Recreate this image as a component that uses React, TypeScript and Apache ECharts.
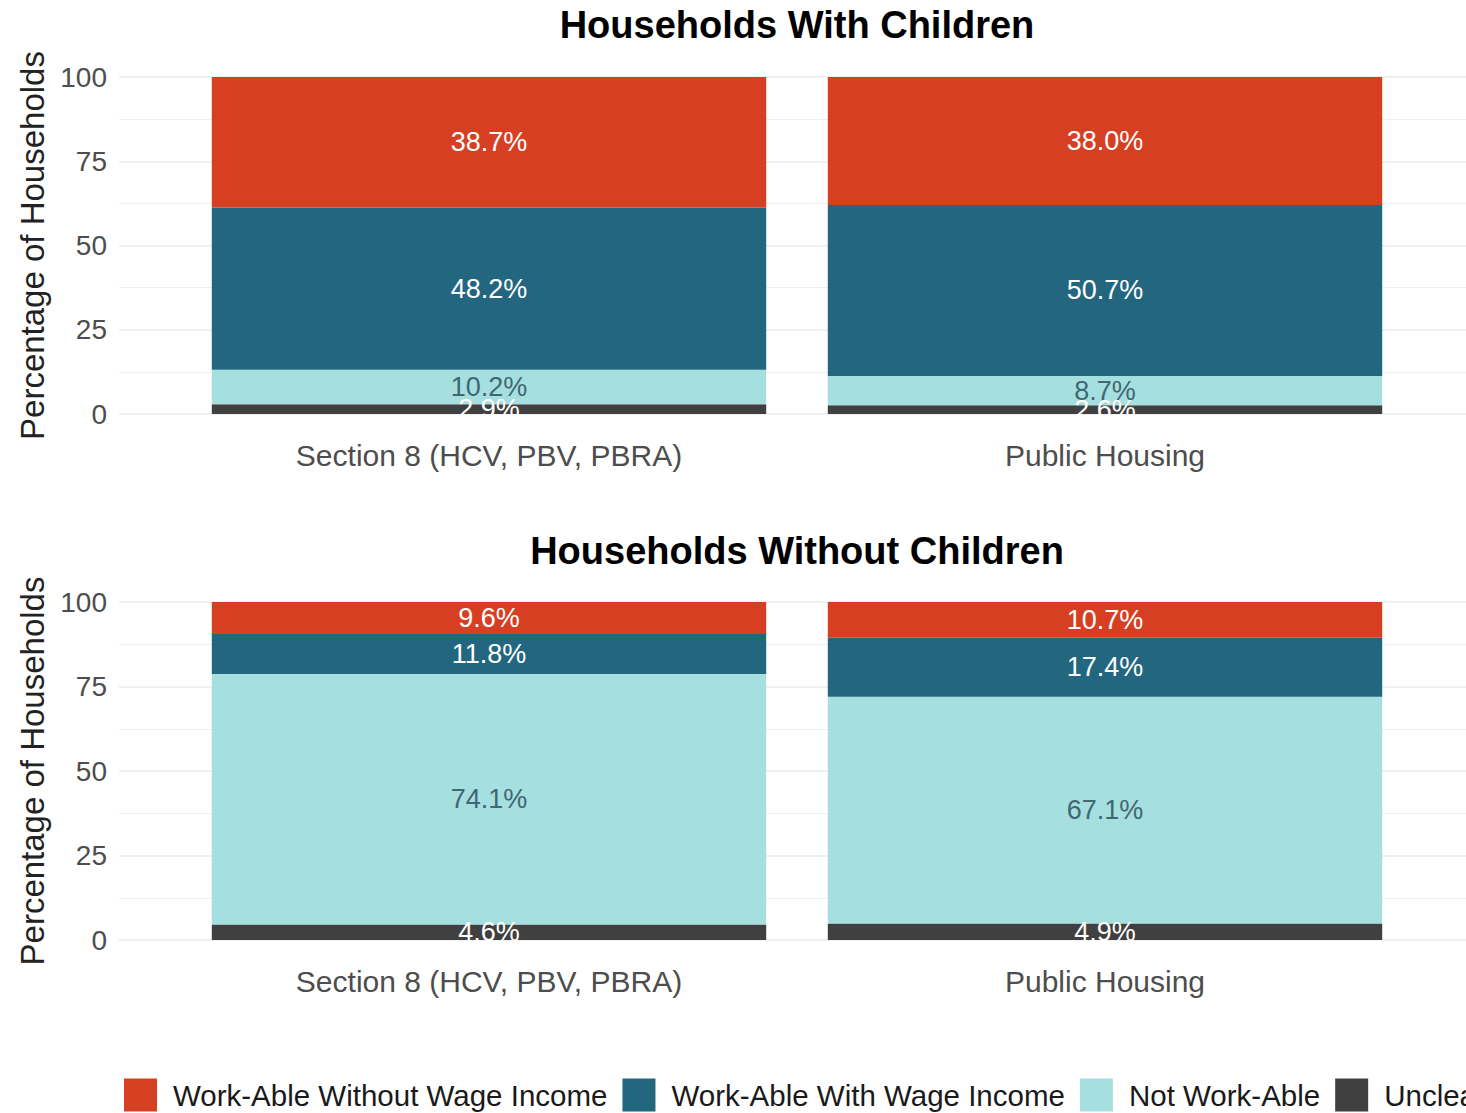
import React, { useEffect, useRef } from "react";
import * as echarts from "echarts";

const categories = ["Section 8 (HCV, PBV, PBRA)", "Public Housing"];
const seriesNames = ["Work-Able Without Wage Income", "Work-Able With Wage Income", "Not Work-Able", "Unclear"];
const seriesColors = ["#d63f21", "#22667f", "#a6dfe0", "#404040"];
const labelColors = ["#ffffff", "#ffffff", "#3f6873", "#ffffff"];
const panelTitles = ["Households With Children", "Households Without Children"];

// values per panel: [WithoutWage, WithWage, NotWorkAble, Unclear] for each category
const withChildrenWithoutWage = [38.7, 38.0];
const withChildrenWithWage = [48.2, 50.7];
const withChildrenNotWorkAble = [10.2, 8.7];
const withChildrenUnclear = [2.9, 2.6];

const withoutChildrenWithoutWage = [9.6, 10.7];
const withoutChildrenWithWage = [11.8, 17.4];
const withoutChildrenNotWorkAble = [74.1, 67.1];
const withoutChildrenUnclear = [4.6, 4.9];

const yTicks = [0, 25, 50, 75, 100];

const FONT = "Liberation Sans, Arial, sans-serif";

export default function App() {
  const ref = useRef<HTMLDivElement>(null);
  useEffect(() => {
    if (!ref.current) return;
    const chart = echarts.init(ref.current, null, { renderer: "svg" });
    const panels = [
      { top: 77, height: 337, titleTop: 1, data: [withChildrenWithoutWage, withChildrenWithWage, withChildrenNotWorkAble, withChildrenUnclear] },
      { top: 602, height: 338, titleTop: 527, data: [withoutChildrenWithoutWage, withoutChildrenWithWage, withoutChildrenNotWorkAble, withoutChildrenUnclear] },
    ];
    const grid: any[] = [];
    const xAxis: any[] = [];
    const yAxis: any[] = [];
    const series: any[] = [];
    const title: any[] = [];
    panels.forEach((p, pi) => {
      grid.push({ left: 119, right: 0, top: p.top, height: p.height });
      grid.push({ left: 181, width: 1232, top: p.top, height: p.height });
      const bg = pi * 2;
      const bar = pi * 2 + 1;
      xAxis.push({ type: "category", gridIndex: bg, data: ["x"], show: false });
      xAxis.push({
        type: "category",
        gridIndex: bar,
        data: categories,
        axisLine: { show: false },
        axisTick: { show: false },
        splitLine: { show: false },
        axisLabel: { fontSize: 30, color: "#4d4d4d", margin: 26, fontFamily: FONT },
      });
      yAxis.push({
        type: "value",
        gridIndex: bg,
        min: yTicks[0],
        max: yTicks[yTicks.length - 1],
        interval: 25,
        axisLine: { show: false },
        axisTick: { show: false },
        axisLabel: { fontSize: 28, color: "#4d4d4d", margin: 12, fontFamily: FONT },
        splitLine: { show: true, lineStyle: { color: "#ebebeb", width: 1.6 } },
        minorTick: { show: false, splitNumber: 2 },
        minorSplitLine: { show: true, lineStyle: { color: "#f0f0f0", width: 1 } },
        name: "Percentage of Households",
        nameLocation: "middle",
        nameGap: 69,
        nameTextStyle: { fontSize: 33, color: "#222222", fontFamily: FONT },
      });
      yAxis.push({ type: "value", gridIndex: bar, min: 0, max: 100, show: false, splitLine: { show: false } });
      seriesNames.forEach((n, si) => {
        series.push({
          type: "bar",
          name: n,
          xAxisIndex: bar,
          yAxisIndex: bar,
          stack: "panel" + pi,
          barWidth: "90%",
          data: p.data[si],
          itemStyle: { color: seriesColors[si] },
          label: {
            show: true,
            position: "inside",
            color: labelColors[si],
            fontSize: 27,
            fontFamily: FONT,
            formatter: (v: any) => Number(v.value).toFixed(1) + "%",
          },
          z: 3,
        });
      });
      title.push({
        text: panelTitles[pi],
        left: 792,
        textAlign: "center",
        top: p.titleTop,
        textStyle: { fontSize: 38, fontWeight: "bold", color: "#000000", fontFamily: FONT },
      });
    });
    // stack order bottom to top: Unclear, Not Work-Able, With Wage, Without Wage
    const ordered: any[] = [];
    [0, 1].forEach((pi) => {
      const s = series.slice(pi * 4, pi * 4 + 4);
      ordered.push(s[3], s[2], s[1], s[0]);
    });
    chart.setOption({
      animation: false,
      backgroundColor: "#ffffff",
      title,
      grid,
      xAxis,
      yAxis,
      series: ordered,
      legend: {
        data: seriesNames,
        left: 119,
        top: 1073,
        width: 1800,
        itemWidth: 33,
        itemHeight: 33,
        itemGap: 15,
        icon: "rect",
        selectedMode: false,
        textStyle: { fontSize: 29.5, lineHeight: 34, color: "#1a1a1a", fontFamily: FONT, padding: [0, 0, 0, 11] },
      },
    });
    return () => chart.dispose();
  }, []);
  return <div ref={ref} style={{ position: "absolute", left: 0, top: 0, width: 1466, height: 1113, background: "#fff" }} />;
}
